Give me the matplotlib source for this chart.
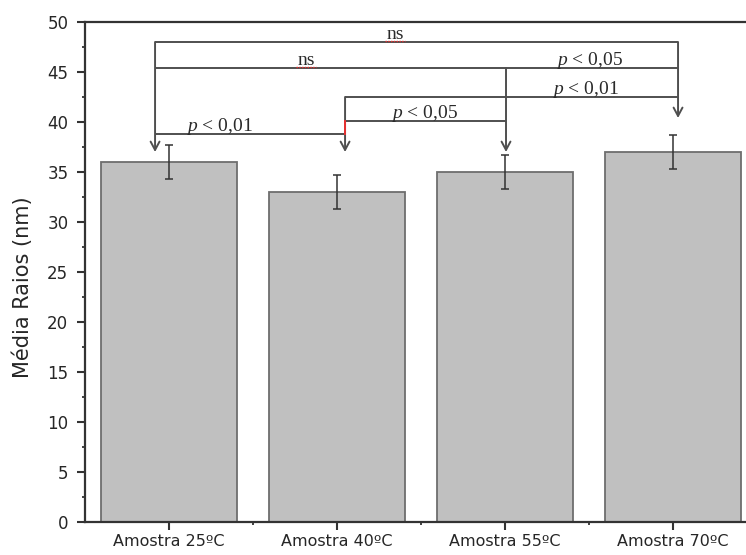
import matplotlib
matplotlib.use("Agg")
import matplotlib.pyplot as plt
import numpy as np

# sample names and mean radius (nm)
amostras = ["Amostra 25ºC", "Amostra 40ºC", "Amostra 55ºC", "Amostra 70ºC"]
media = [36.0, 33.0, 35.0, 37.0]
erro = [1.7, 1.7, 1.7, 1.7]

# comparison brackets: (from, to, level, label, label x)
comp_de = [0.917, 0.917, 3.006, 2.048, 2.048, 0.917]
comp_ate = [4.030, 3.006, 4.030, 4.030, 3.006, 2.048]
comp_nivel = [48.0, 45.4, 45.4, 42.5, 40.1, 38.8]
comp_txt = ["ns", "ns", "$p$ < 0,05", "$p$ < 0,01", "$p$ < 0,05", "$p$ < 0,01"]
comp_txt_x = [2.345, 1.815, 3.50, 3.48, 2.52, 1.30]

# arrows going down to the bars: x, top, tip
seta_x = [0.917, 2.048, 3.006, 4.030]
seta_topo = [48.0, 42.5, 45.4, 48.0]
seta_ponta = [37.0, 37.0, 37.0, 40.4]

plt.rcParams["mathtext.fontset"] = "custom"
plt.rcParams["mathtext.it"] = "Liberation Serif:italic"
plt.rcParams["mathtext.rm"] = "Liberation Serif"

fig = plt.figure(figsize=(7.46, 5.55), dpi=100)
ax = fig.add_axes([85 / 746, 33 / 555, 672 / 746, 500 / 555])

x = np.arange(1, len(media) + 1)
ax.bar(x, media, width=0.81, color="#c0c0c0", edgecolor="#6e6e6e", linewidth=1.3, zorder=2)
ax.errorbar(x, media, yerr=erro, fmt="none", ecolor="#333333", elinewidth=1.1,
            capsize=3.2, capthick=1.1, zorder=3)

cinza = "#4f4f4f"
for a, b, lv in zip(comp_de, comp_ate, comp_nivel):
    ax.plot([a, b], [lv, lv], color=cinza, lw=1.4, solid_capstyle="butt", zorder=4)
for sx, top, tip in zip(seta_x, seta_topo, seta_ponta):
    ax.annotate("", xy=(sx, tip), xytext=(sx, top),
                arrowprops=dict(arrowstyle="->,head_length=0.6,head_width=0.32",
                                color=cinza, lw=1.4, shrinkA=0, shrinkB=0,
                                mutation_scale=10), zorder=4)
# little red bit on the 40C line
ax.plot([2.048, 2.048], [38.8, 40.1], color="#e83030", lw=1.4, zorder=5)

for t, tx, lv in zip(comp_txt, comp_txt_x, comp_nivel):
    ax.text(tx, lv + 0.3, t, ha="center", va="baseline", fontsize=14,
            family="Liberation Serif", color="#2a2a2a", zorder=6)
    if t == "ns":
        ax.plot([tx - 0.06, tx + 0.06], [lv + 0.15, lv + 0.15], color="#e83030",
                lw=1.0, ls=(0, (1, 1)), zorder=6)

ax.set_xlim(0.5, 4.5)
ax.set_ylim(0, 50)
ax.set_yticks(np.arange(0, 51, 5))
ax.set_yticks(np.arange(2.5, 50, 5), minor=True)
ax.set_xticks(x)
ax.set_xticks(x[:-1] + 0.5, minor=True)
ax.set_xticklabels(amostras, fontsize=11.5, color="#262626")
ax.tick_params(axis="y", labelsize=12, labelcolor="#262626")
ax.tick_params(which="major", direction="out", length=6, width=1.5, color="#333333", pad=6)
ax.tick_params(which="minor", direction="out", length=2.5, width=1.3, color="#333333")
ax.tick_params(axis="x", which="major", pad=2.5)
ax.set_ylabel("Média Raios (nm)", fontsize=15, color="#262626")
ax.yaxis.set_label_coords(-0.0774, 0.47)

for s in ax.spines.values():
    s.set_linewidth(1.6)
    s.set_color("#333333")

fig.savefig("out.png", dpi=100)
